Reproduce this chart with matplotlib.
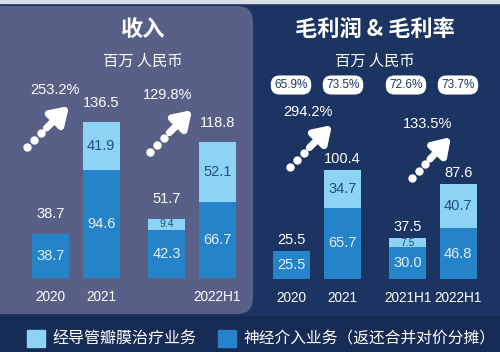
import matplotlib
matplotlib.use("Agg")
import matplotlib.pyplot as plt
from matplotlib.patches import FancyBboxPatch, Rectangle

plt.rcParams['font.family'] = ['Liberation Sans', 'Noto Sans CJK SC', 'DejaVu Sans']

# data
rev_labels = ["2020", "2021", "", "2022H1"]
rev_neuro = [38.7, 94.6, 42.3, 66.7]
rev_valve = [0.0, 41.9, 9.4, 52.1]
rev_total = [38.7, 136.5, 51.7, 118.8]
rev_growth = ["253.2%", "129.8%"]

gp_labels = ["2020", "2021", "2021H1", "2022H1"]
gp_neuro = [25.5, 65.7, 30.0, 46.8]
gp_valve = [0.0, 34.7, 7.5, 40.7]
gp_total = [25.5, 100.4, 37.5, 87.6]
gp_margin = ["65.9%", "73.5%", "72.6%", "73.7%"]
gp_growth = ["294.2%", "133.5%"]

legend_labels = ["经导管瓣膜治疗业务", "神经介入业务（返还合并对价分摊）"]

xpos = [0, 1, 2.3, 3.3]

BG = "#1c3461"
PANEL = "#596087"
STRIP = "#172c55"
LIGHT = "#8dd3f3"
DARK = "#2483c9"
W, H = 500, 352

fig = plt.figure(figsize=(5, 3.52), dpi=100)
fig.patch.set_facecolor(BG)

# overlay in pixel coords (y down)
bg = fig.add_axes([0, 0, 1, 1])
bg.set_xlim(0, W)
bg.set_ylim(H, 0)
bg.axis("off")
bg.add_patch(Rectangle((0, 316), W, 36, color=STRIP, zorder=0))
bg.add_patch(FancyBboxPatch((-20, 6), 273, 308, boxstyle="round,pad=0,rounding_size=16",
                            fc=PANEL, ec="none", zorder=1))
bg.add_patch(Rectangle((0, 0), W, 2.5, color="#d8dde6", zorder=2))

cjk = ['Noto Sans CJK SC', 'DejaVu Sans']
bg.text(143, 29, "收入", color="white", fontsize=16, fontweight="bold", family=cjk,
        ha="center", va="center", zorder=3)
bg.text(143, 61, "百万 人民币", color="white", fontsize=11, family=cjk,
        ha="center", va="center", zorder=3)
bg.text(375, 29, "毛利润 & 毛利率", color="white", fontsize=16, fontweight="bold", family=cjk,
        ha="center", va="center", zorder=3)
bg.text(375, 61, "百万 人民币", color="white", fontsize=11, family=cjk,
        ha="center", va="center", zorder=3)

# legend
bg.add_patch(Rectangle((27, 330), 18, 17, color=LIGHT, zorder=3))
bg.text(52, 339, legend_labels[0], color="white", fontsize=11.5, family=cjk,
        ha="left", va="center", zorder=3)
bg.add_patch(Rectangle((218, 330), 18, 17, color=DARK, zorder=3))
bg.text(243, 339, legend_labels[1], color="white", fontsize=11.3, family=cjk,
        ha="left", va="center", zorder=3)


def growth_arrow(ax, x0, y0, x1, y1, label, lx, ly):
    # dotted lead-in then a solid arrow
    dx, dy = x1 - x0, y1 - y0
    for f in (0.0, 0.17, 0.34):
        ax.plot(x0 + f * dx, y0 + f * dy, "o", color="white", ms=5, zorder=5)
    ax.annotate("", xy=(x1, y1), xytext=(x0 + 0.46 * dx, y0 + 0.46 * dy),
                arrowprops=dict(arrowstyle="-|>,head_length=1.0,head_width=0.65",
                                color="white", lw=5, shrinkA=0, shrinkB=0,
                                capstyle="round"),
                zorder=5)
    ax.text(lx, ly, label, color="white", fontsize=10.5, ha="center", va="center", zorder=5)


growth_arrow(bg, 27, 147, 69, 106, rev_growth[0], 55, 90)
growth_arrow(bg, 150, 152, 192, 110, rev_growth[1], 168, 95)
growth_arrow(bg, 290, 167, 332, 125, gp_growth[0], 308, 112)
growth_arrow(bg, 412, 178, 451, 137, gp_growth[1], 428, 124)

for i, m in enumerate(gp_margin):
    cx = [291, 343, 406, 458][i]
    bg.text(cx, 85, m, color="#1c3461", fontsize=8.5, ha="center", va="center", zorder=5,
            bbox=dict(boxstyle="round,pad=0.3,rounding_size=0.75", fc="white", ec="none"))


def bar_panel(rect, ymax, neuro, valve, total, labels, tot_off):
    ax = fig.add_axes(rect)
    ax.set_facecolor("none")
    ax.set_xlim(-0.5, 3.8)
    ax.set_ylim(0, ymax)
    ax.axis("off")
    ax.bar(xpos, neuro, width=0.74, color=DARK, zorder=2)
    ax.bar(xpos, valve, width=0.74, bottom=neuro, color=LIGHT, zorder=2)
    for x, n, v, t, lab in zip(xpos, neuro, valve, total, labels):
        ax.text(x, n / 2, f"{n:.1f}", color="#e6eef8", fontsize=10.5, ha="center", va="center", zorder=3)
        if v > 0:
            ax.text(x, n + v / 2, f"{v:.1f}", color="#1f4f82",
                    fontsize=10.5 if v > 15 else 7.5, ha="center", va="center", zorder=3)
        ax.annotate(f"{t:.1f}", (x, t), xytext=(0, tot_off), textcoords="offset points",
                    color="white", fontsize=10.5, ha="center", va="center", zorder=3)
        ax.annotate(lab, (x, 0), xytext=(0, -14), textcoords="offset points",
                    color="white", fontsize=9.8, ha="center", va="center", zorder=3)
    return ax


bar_panel([25.5 / W, 74 / H, 217 / W, 200 / H], 175, rev_neuro, rev_valve, rev_total,
          rev_labels, 14)
bar_panel([266.5 / W, 73 / H, 217 / W, 200 / H], 185, gp_neuro, gp_valve, gp_total,
          gp_labels, 8)

fig.savefig("out.png", dpi=100, facecolor=fig.get_facecolor())
